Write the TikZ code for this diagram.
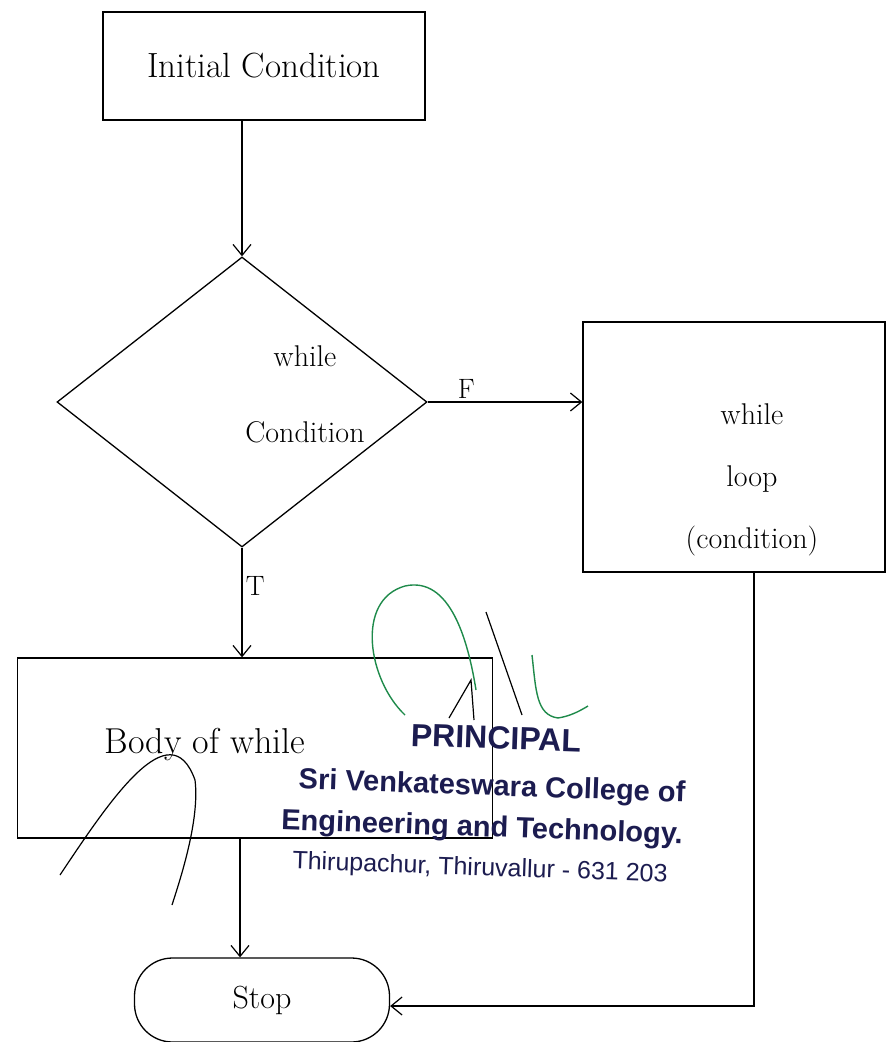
\documentclass[tikz,border=0pt]{standalone}
\usepackage{fontspec}
\newfontfamily\stampfont{Liberation Sans}
\usetikzlibrary{shapes.geometric,arrows.meta}
\definecolor{stampblue}{HTML}{1C1C50}
\definecolor{signgreen}{HTML}{1E8A4A}
\tikzset{
  box/.style={draw, line width=1.3pt, rectangle, inner sep=0pt},
  decision/.style={draw, line width=1.3pt, diamond, aspect=1.28, minimum width=370pt, minimum height=290pt, inner sep=0pt},
  terminal/.style={draw, line width=1.3pt, rectangle, rounded corners=38pt, inner sep=0pt, font=\fontsize{32}{36}\selectfont},
  hand/.style={font=\fontsize{30}{62}\selectfont, align=center},
  flow/.style={line width=1.2pt, -{Straight Barb[length=11pt,width=18pt]}},
  lbl/.style={font=\fontsize{28}{32}\selectfont},
  stamp/.style={font=\stampfont\bfseries\fontsize{29}{32}\selectfont, text=stampblue, rotate=-2, inner sep=1pt},
}
\begin{document}
\begin{tikzpicture}[x=1pt,y=-1pt]
\useasboundingbox (0,0) rectangle (893,1042);
\fill[white] (0,0) rectangle (893,1042);

\node[box, minimum width=322pt, minimum height=108pt, font=\fontsize{35}{38}\selectfont] (init) at (264,66) {Initial Condition};
\node[decision] (cond) at (242,402) {};
\node[hand, font=\fontsize{30}{76}\selectfont] (condtext) at (305,394) {while\\Condition};
\node[box, minimum width=302pt, minimum height=250pt] (loop) at (734,447) {};
\node[hand] (looptext) at (752,480) {while\\loop\\(condition)};
\node[box, minimum width=475pt, minimum height=180pt, anchor=west] (body) at (17,748) {};
\node[font=\fontsize{36}{40}\selectfont] (bodytext) at (205,745) {Body of while};
\node[terminal, minimum width=255pt, minimum height=84pt] (stop) at (262,1000) {Stop};

\draw[flow] (init.south -| cond.north) -- (cond.north);
\draw[flow] (cond.east) -- node[lbl, above, pos=0.25] (flab) {F} (loop.west |- cond.east);
\draw[flow] (cond.south) -- node[lbl, right, pos=0.35] (tlab) {T} (cond.south |- body.north);
\draw[flow] ([xshift=-22pt]stop.north |- body.south) -- ([xshift=-22pt]stop.north);
\draw[flow] ([xshift=20pt]loop.south) |- ([yshift=-6pt]stop.east);

% stamp
\node[stamp, font=\stampfont\bfseries\fontsize{32}{36}\selectfont] (s1) at (496,738) {PRINCIPAL};
\node[stamp] (s2) at (492,788) {Sri Venkateswara College of};
\node[stamp] (s3) at (482,829) {Engineering and Technology.};
\node[stamp, font=\stampfont\fontsize{25}{28}\selectfont] (s4) at (480,869) {Thirupachur, Thiruvallur - 631 203};

% signature
\draw[signgreen, line width=1.4pt] (405,715) .. controls (368,680) and (355,600) .. (405,586) .. controls (450,576) and (468,640) .. (476,690);
\draw[signgreen, line width=1.4pt] (532,655) .. controls (536,690) and (536,715) .. (558,718) .. controls (570,716) and (578,712) .. (588,706);
\draw[line width=1.2pt] (449,718) -- (471,680) -- (474,720);
\draw[line width=1.2pt] (486,612) -- (522,715);
\draw[line width=1.2pt] (60,875) .. controls (110,800) and (170,710) .. (195,780) .. controls (200,820) and (180,880) .. (172,905);
\end{tikzpicture}
\end{document}
